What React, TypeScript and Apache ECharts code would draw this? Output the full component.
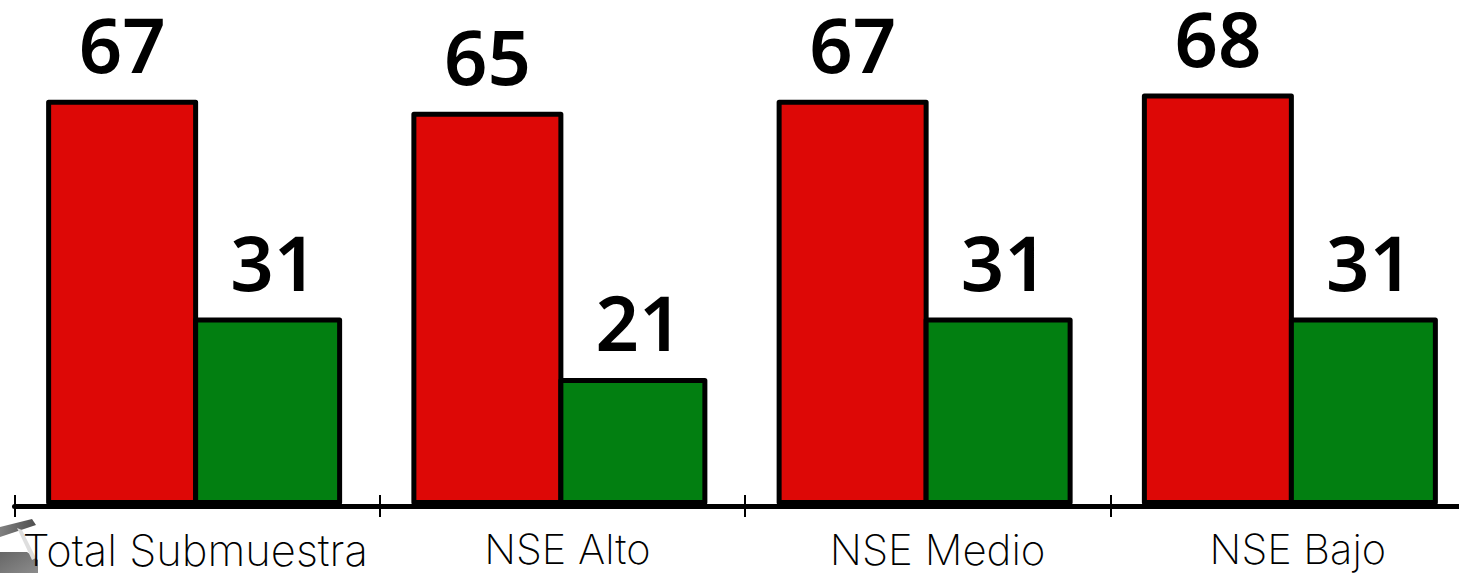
import React, { useEffect, useRef } from "react";
import * as echarts from "echarts";

const categories = ["Total Submuestra", "NSE Alto", "NSE Medio", "NSE Bajo"];
const redValues = [67, 65, 67, 68];
const greenValues = [31, 21, 31, 31];
const labelShift = [-4, 10, 20, 10];
const labelSize = [43.5, 41.5, 42, 41.5];

export default function App() {
  const ref = useRef<HTMLDivElement>(null);
  useEffect(() => {
    const chart = echarts.init(ref.current!, undefined, { renderer: "svg" });
    const valueLabel = (dx: number) => ({
      show: true,
      position: "top" as const,
      distance: 18,
      offset: [dx, 0],
      fontFamily: "Noto Sans",
      fontWeight: 600,
      fontSize: 76,
      color: "#000000",
    });
    const labelRich: Record<string, any> = {};
    labelShift.forEach((s, i) => {
      labelRich["l" + i] = {
        fontFamily: "Inter",
        fontSize: labelSize[i],
        fontWeight: 200,
        color: "#000000",
        padding: s < 0 ? [0, -s, 0, 0] : [0, 0, 0, s],
      };
    });
    const grad = (x2: number, y2: number, a: string, b: string) =>
      new echarts.graphic.LinearGradient(0, 0, x2, y2, [
        { offset: 0, color: a },
        { offset: 1, color: b },
      ]);
    chart.setOption({
      animation: false,
      grid: [
        { left: 14.5, top: 23.6, width: 1461, height: 482.4, outerBoundsMode: "none" },
        { left: 11.5, top: 21, width: 1461, height: 484, outerBoundsMode: "none" },
      ],
      xAxis: [
        {
          type: "category",
          gridIndex: 0,
          data: categories,
          z: 5,
          axisLine: { show: true, onZero: false, lineStyle: { color: "#000", width: 5 } },
          axisTick: { show: true, length: 11, lineStyle: { color: "#000", width: 2 } },
          axisLabel: {
            margin: 22,
            interval: 0,
            formatter: (v: string) => `{l${categories.indexOf(v)}|${v}}`,
            rich: labelRich,
          },
        },
        {
          type: "category",
          gridIndex: 0,
          data: categories,
          position: "bottom",
          axisLine: { show: false },
          axisTick: { show: true, inside: true, length: 11, lineStyle: { color: "#000", width: 2 } },
          axisLabel: { show: false },
        },
        {
          type: "category",
          gridIndex: 1,
          data: categories,
          axisLine: { show: false },
          axisTick: { show: false },
          axisLabel: { show: false },
        },
      ],
      yAxis: [
        { type: "value", gridIndex: 0, min: 0, max: 80, show: false },
        { type: "value", gridIndex: 1, min: 0, max: 80, show: false },
      ],
      graphic: [
        {
          type: "group",
          silent: true,
          z: 0,
          children: [
            { type: "polygon", z: 0, shape: { points: [[0, 552], [27, 552], [38, 560], [38, 573], [0, 573]] }, style: { fill: grad(1, 1, "#666666", "#8c8c8c") } },
            { type: "polygon", z: 0, shape: { points: [[0, 527], [32, 519], [36, 525], [0, 537]] }, style: { fill: grad(1, 0, "#808080", "#4f4f4f") } },
            { type: "polygon", z: 0, shape: { points: [[17, 528], [22, 530], [36, 558], [32, 560]] }, style: { fill: "#dedede" } },
          ],
        },
      ],
      series: [
        {
          type: "bar",
          xAxisIndex: 2,
          yAxisIndex: 1,
          data: redValues,
          barWidth: 152,
          barGap: "-3.29%",
          itemStyle: { color: "#DD0806", borderColor: "#000", borderWidth: 5, borderJoin: "round" },
          label: valueLabel(0),
        },
        {
          type: "bar",
          xAxisIndex: 2,
          yAxisIndex: 1,
          data: greenValues,
          barWidth: 149,
          barGap: "-3.29%",
          itemStyle: { color: "#027F11", borderColor: "#000", borderWidth: 5, borderJoin: "round" },
          label: valueLabel(6),
        },
      ],
    });
    return () => chart.dispose();
  }, []);
  return (
    <div
      ref={ref}
      style={{ position: "absolute", left: 0, top: 0, width: 1459, height: 573 }}
    />
  );
}
